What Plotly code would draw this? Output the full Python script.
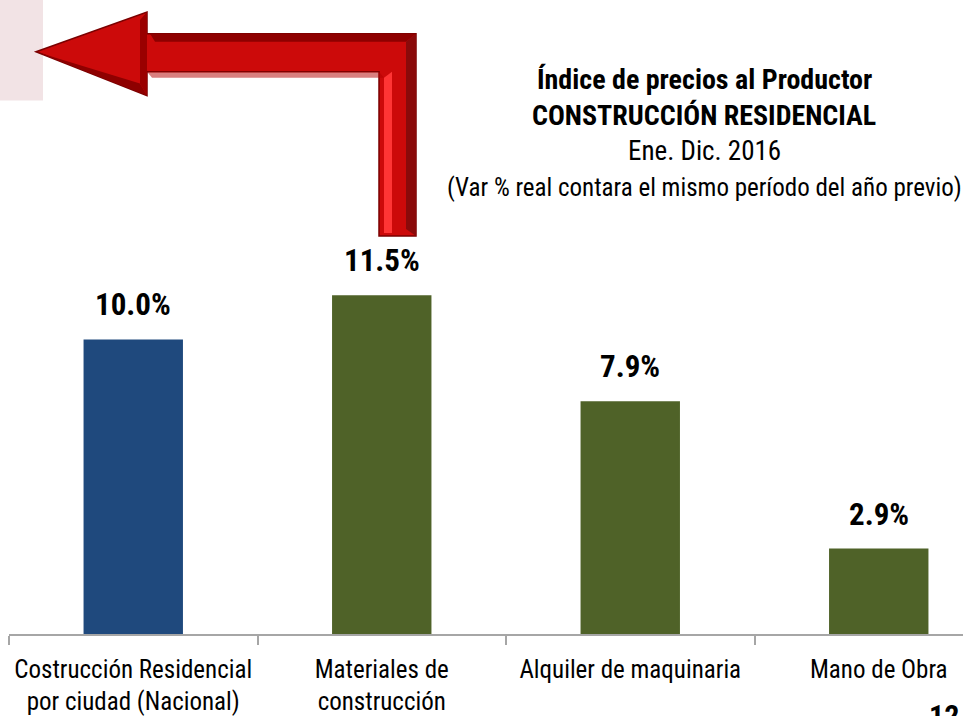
import plotly.graph_objects as go

# Datos del gráfico
categorias = [
    "Costrucción Residencial<br>por ciudad (Nacional)",
    "Materiales de<br>construcción",
    "Alquiler de maquinaria",
    "Mano de Obra",
]
variacion = [10.0, 11.5, 7.9, 2.9]
colores = ["#1F497D", "#4F6228", "#4F6228", "#4F6228"]
titulo = [
    ("<b>Índice de precios al Productor</b>", 80, 28),
    ("<b>CONSTRUCCIÓN RESIDENCIAL</b>", 116, 28),
    ("Ene. Dic. 2016", 152, 27),
    ("(Var % real contara el mismo período del año previo)", 188, 25),
]

W, H = 963, 716
L, R, T, B = 9, 0, 0, 79
PW, PH = W - L - R, H - T - B
FUENTE = "Roboto Condensed, Liberation Sans Narrow, sans-serif"


def px_x(x):
    return (x - L) / PW


def px_y(y):
    return 1 - (y - T) / PH


def ruta(puntos):
    return "M " + " L ".join(f"{px_x(x)},{px_y(y)}" for x, y in puntos) + " Z"


fig = go.Figure(go.Bar(
    x=categorias,
    y=variacion,
    marker=dict(color=colores, line=dict(width=0)),
    width=0.4,
    hoverinfo="skip",
))

# Etiquetas de valor sobre las barras
for cat, val in zip(categorias, variacion):
    fig.add_annotation(
        x=cat, y=val, text=f"<b>{val:.1f}%</b>", showarrow=False,
        yanchor="bottom", yshift=14,
        font=dict(family=FUENTE, size=31, color="#000000"),
    )

for texto, yy, tam in titulo:
    fig.add_annotation(
        xref="paper", yref="paper", x=px_x(704), y=px_y(yy),
        text=texto, showarrow=False, xanchor="center", yanchor="middle",
        font=dict(family=FUENTE, size=tam, color="#000000"),
    )

# Número de página (cortado por el borde inferior, como en el original)
fig.add_annotation(
    xref="paper", yref="paper", x=px_x(944), y=px_y(699),
    text="<b>12</b>", showarrow=False, xanchor="center", yanchor="top",
    font=dict(family=FUENTE, size=30, color="#000000"),
)

# Rectángulo rosado y flecha roja
formas = [
    dict(type="rect", xref="paper", yref="paper",
         x0=px_x(0), x1=px_x(43), y0=px_y(101), y1=px_y(0),
         fillcolor="#F2E3E5", line=dict(width=0), layer="below"),
]
flecha = [(36, 52), (147, 12), (147, 34), (416, 34), (416, 237),
          (379, 237), (379, 72), (147, 72), (147, 96)]
formas.append(dict(type="path", xref="paper", yref="paper", path=ruta(flecha),
                   fillcolor="#CC0A0A", line=dict(color="#7A0000", width=1.5)))
# Brillos y sombras del bisel
formas.append(dict(type="path", xref="paper", yref="paper",
                   path=ruta([(150, 34), (416, 34), (406, 42), (155, 42)]),
                   fillcolor="#8E0000", line=dict(width=0)))
formas.append(dict(type="path", xref="paper", yref="paper",
                   path=ruta([(406, 42), (416, 34), (416, 237), (406, 230)]),
                   fillcolor="#8A0A0A", line=dict(width=0)))
formas.append(dict(type="path", xref="paper", yref="paper",
                   path=ruta([(384, 78), (392, 72), (392, 234), (384, 234)]),
                   fillcolor="#FF3535", line=dict(width=0)))
formas.append(dict(type="path", xref="paper", yref="paper",
                   path=ruta([(147, 72), (379, 72), (384, 78), (152, 78)]),
                   fillcolor="#B30000", line=dict(width=0), opacity=0.5))
formas.append(dict(type="path", xref="paper", yref="paper",
                   path=ruta([(36, 52), (147, 96), (140, 84)]),
                   fillcolor="#8E0000", line=dict(width=0)))
formas.append(dict(type="path", xref="paper", yref="paper",
                   path=ruta([(140, 20), (147, 12), (147, 96), (140, 84)]),
                   fillcolor="#9A0000", line=dict(width=0)))

fig.update_layout(
    width=W, height=H,
    margin=dict(l=L, r=R, t=T, b=B),
    paper_bgcolor="#FFFFFF", plot_bgcolor="#FFFFFF",
    showlegend=False,
    shapes=formas,
    xaxis=dict(
        range=[-0.5, -0.5 + PW / 248.5],
        showline=True, linecolor="#A6A6A6", linewidth=1.5,
        ticks="outside", tickson="boundaries", ticklen=9, tickcolor="#A6A6A6",
        tickwidth=1.5, ticklabelstandoff=12,
        showgrid=False,
        tickfont=dict(family=FUENTE, size=25, color="#000000"),
        fixedrange=True,
    ),
    yaxis=dict(range=[0, PH / 29.6], visible=False, fixedrange=True),
)

fig.write_html("out.html", config={"displayModeBar": False},
               post_script="document.body.style.margin='0px';")
